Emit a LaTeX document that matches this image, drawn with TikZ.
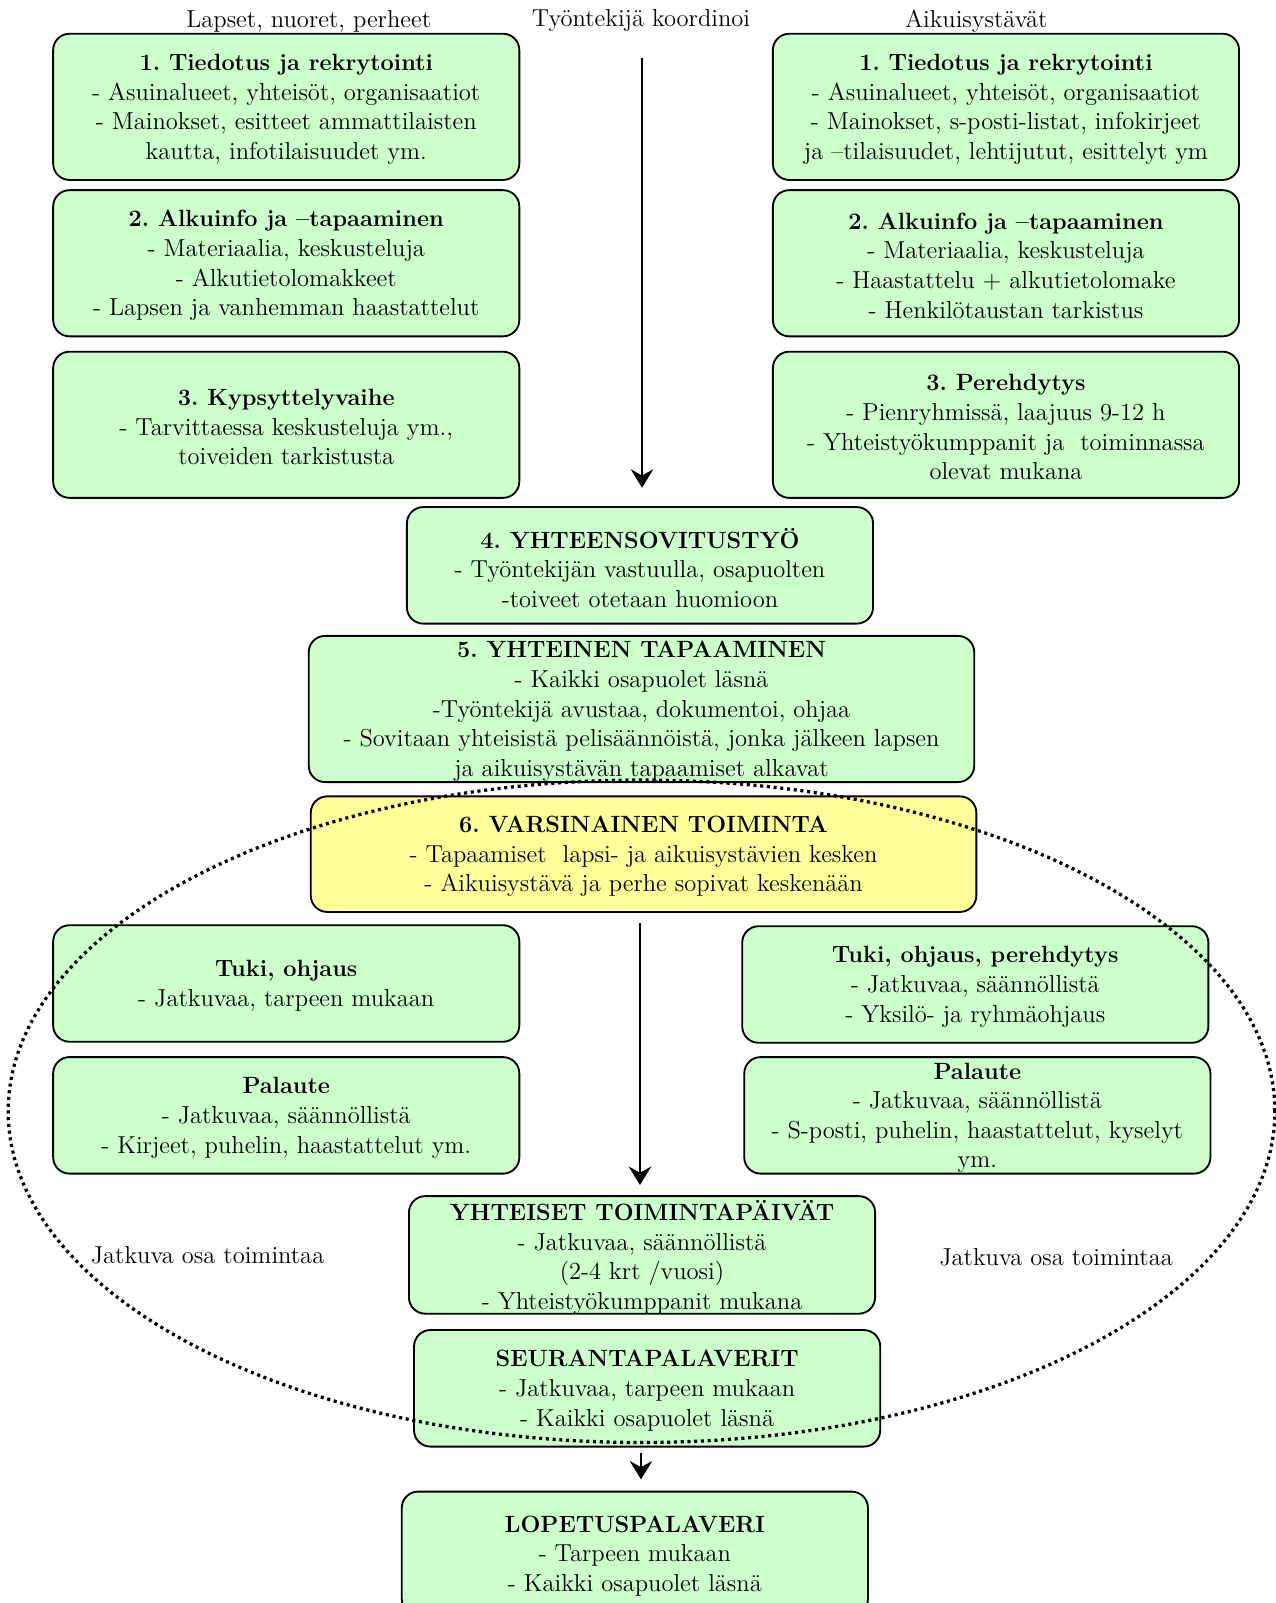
\documentclass[tikz,border=0pt]{standalone}
\usepackage{fontspec}
\usetikzlibrary{arrows.meta,calc}
\definecolor{boxgreen}{HTML}{CCFFCC}
\definecolor{boxyellow}{HTML}{FFFF99}
\newcommand{\ttl}[1]{{\fontsize{11.5}{14.5}\selectfont\bfseries #1}}
\frenchspacing
\begin{document}
\begin{tikzpicture}[x=0.5pt,y=-0.5pt,
  box/.style={draw=black, line width=0.9pt, rounded corners=8pt, fill=boxgreen,
    minimum width=228pt, minimum height=57pt, inner sep=0pt},
  tall/.style={minimum height=71.5pt},
  wide/.style={minimum width=325.5pt},
  txt/.style={align=center, font=\fontsize{12}{14.5}\selectfont, inner sep=0pt, yshift=-1.2pt},
  lbl/.style={font=\fontsize{12}{14.5}\selectfont, inner sep=0pt},
  arr/.style={-{Stealth[length=9pt,width=11pt,inset=3pt]}, line width=0.8pt},
  dots/.style={line width=1.6pt, dash pattern=on 1.5pt off 1.8pt}
]
\useasboundingbox (0,0) rectangle (1248,1568);

% headers
\node[lbl] (hL) at (302,20.5) {Lapset, nuoret, perheet};
\node[lbl] (hM) at (627,20.5) {Työntekijä koordinoi};
\node[lbl] (hR) at (955,20.5) {Aikuisystävät};

% left column
\node[box,tall] (L1) at (280,104.5) {};
\node[box,tall] (L2) at (280,257.5) {};
\node[box,tall] (L3) at (280,415.5) {};
% right column
\node[box,tall] (R1) at (984,104.5) {};
\node[box,tall] (R2) at (984,257.5) {};
\node[box,tall] (R3) at (984,415.5) {};
% centre
\node[box] (B4) at (626,553) {};
\node[box,wide,tall] (B5) at (627.5,693.5) {};
\node[box,wide,fill=boxyellow,minimum height=56.5pt] (B6) at (629.5,835.5) {};
\node[box] (LT) at (280,962) {};
\node[box] (LP) at (280,1091) {};
\node[box] (RT) at (954,963) {};
\node[box] (RP) at (956,1091) {};
\node[box,minimum height=57.5pt] (YT) at (628,1227.5) {};
\node[box] (SP) at (633,1358) {};
\node[box,minimum height=60.5pt] (LO) at (621,1519.5) {};

% texts
\node[txt] (L1t) at (L1.center) {\ttl{1. Tiedotus ja rekrytointi}\\- Asuinalueet, yhteisöt, organisaatiot\\- Mainokset, esitteet ammattilaisten\\kautta, infotilaisuudet ym.};
\node[txt] (L2t) at (L2.center) {\ttl{2. Alkuinfo ja –tapaaminen}\\- Materiaalia, keskusteluja\\- Alkutietolomakkeet\\- Lapsen ja vanhemman haastattelut};
\node[txt] (L3t) at (L3.center) {\ttl{3. Kypsyttelyvaihe}\\- Tarvittaessa keskusteluja ym.,\\toiveiden tarkistusta};
\node[txt] (R1t) at (R1.center) {\ttl{1. Tiedotus ja rekrytointi}\\- Asuinalueet, yhteisöt, organisaatiot\\- Mainokset, s-posti-listat, infokirjeet\\ja –tilaisuudet, lehtijutut, esittelyt ym};
\node[txt] (R2t) at (R2.center) {\ttl{2. Alkuinfo ja –tapaaminen}\\- Materiaalia, keskusteluja\\- Haastattelu + alkutietolomake\\- Henkilötaustan tarkistus};
\node[txt] (R3t) at (R3.center) {\ttl{3. Perehdytys}\\- Pienryhmissä, laajuus 9-12 h\\- Yhteistyökumppanit ja\ \ toiminnassa\\olevat mukana};
\node[txt] (B4t) at (B4.center) {\ttl{4. YHTEENSOVITUSTYÖ}\\- Työntekijän vastuulla, osapuolten\\-toiveet otetaan huomioon};
\node[txt] (B5t) at (B5.center) {\ttl{5. YHTEINEN TAPAAMINEN}\\- Kaikki osapuolet läsnä\\-Työntekijä avustaa, dokumentoi, ohjaa\\- Sovitaan yhteisistä pelisäännöistä, jonka jälkeen lapsen\\ja aikuisystävän tapaamiset alkavat};
\node[txt] (B6t) at (B6.center) {\ttl{6. VARSINAINEN TOIMINTA}\\- Tapaamiset\ \ lapsi- ja aikuisystävien kesken\\- Aikuisystävä ja perhe sopivat keskenään};
\node[txt] (LTt) at (LT.center) {\ttl{Tuki, ohjaus}\\- Jatkuvaa, tarpeen mukaan};
\node[txt] (LPt) at (LP.center) {\ttl{Palaute}\\- Jatkuvaa, säännöllistä\\- Kirjeet, puhelin, haastattelut ym.};
\node[txt] (RTt) at (RT.center) {\ttl{Tuki, ohjaus, perehdytys}\\- Jatkuvaa, säännöllistä\\- Yksilö- ja ryhmäohjaus};
\node[txt] (RPt) at (RP.center) {\ttl{Palaute}\\- Jatkuvaa, säännöllistä\\- S-posti, puhelin, haastattelut, kyselyt\\ym.};
\node[txt] (YTt) at (YT.center) {\ttl{YHTEISET TOIMINTAPÄIVÄT}\\- Jatkuvaa, säännöllistä\\(2-4 krt /vuosi)\\- Yhteistyökumppanit mukana};
\node[txt] (SPt) at (SP.center) {\ttl{SEURANTAPALAVERIT}\\- Jatkuvaa, tarpeen mukaan\\- Kaikki osapuolet läsnä};
\node[txt] (LOt) at (LO.center) {\ttl{LOPETUSPALAVERI}\\- Tarpeen mukaan\\- Kaikki osapuolet läsnä};

% side labels
\node[lbl] (jL) at (203,1228) {Jatkuva osa toimintaa};
\node[lbl] (jR) at (1033,1230) {Jatkuva osa toimintaa};

% arrows
\coordinate (a1s) at (628,57);
\draw[arr, shorten >=9pt] (a1s) -- (a1s |- B4.north);
\coordinate (a2x) at (626,0);
\draw[arr, shorten <=5pt, shorten >=5pt] (a2x |- B6.south) -- (a2x |- YT.north);
\coordinate (a3x) at (627,0);
\draw[arr, shorten <=2.5pt, shorten >=5.5pt] (a3x |- SP.south) -- (a3x |- LO.north);

% dotted ellipse
\draw[dots] (627.5,1087) ellipse [x radius=309.75pt, y radius=162pt];
\end{tikzpicture}
\end{document}
